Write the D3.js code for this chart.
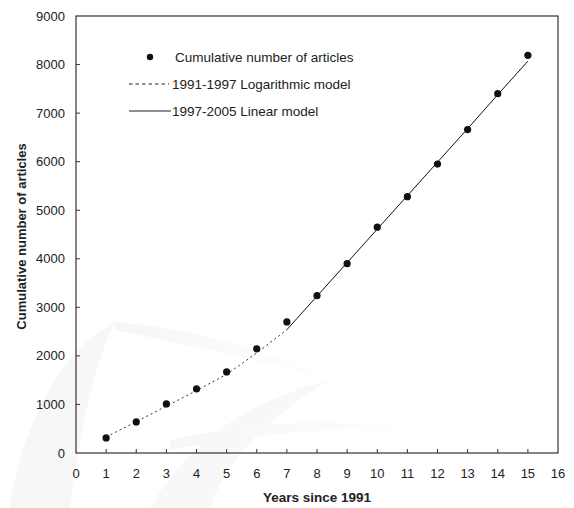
<!DOCTYPE html>
<html>
<head>
<meta charset="utf-8">
<script src="https://cdn.jsdelivr.net/npm/d3@7"></script>
<style>
  html, body { margin: 0; padding: 0; background: #fff; }
  text { font-family: "Liberation Sans", Arial, sans-serif; fill: #222; }
</style>
</head>
<body>
<div id="container"></div>
<script>
// Data
const years = [1, 2, 3, 4, 5, 6, 7, 8, 9, 10, 11, 12, 13, 14, 15];
const articles = [310, 640, 1010, 1320, 1670, 2145, 2700, 3240, 3900, 4650, 5280, 5950, 6660, 7400, 8190];

const logYears = [1, 2, 3, 4, 5, 6, 7];
const logModel = [330, 645, 965, 1285, 1620, 2060, 2540];

const linYears = [7, 8, 9, 10, 11, 12, 13, 14, 15];
const linModel = [2540, 3230, 3920, 4610, 5300, 5990, 6680, 7380, 8070];

const xTicks = d3.range(0, 17);
const yTicks = d3.range(0, 9001, 1000);

const legendItems = [
  { label: "Cumulative number of articles", type: "dot" },
  { label: "1991-1997 Logarithmic model", type: "dash" },
  { label: "1997-2005 Linear model", type: "line" }
];

const width = 574, height = 508;
const marginLeft = 76, marginRight = 16, marginTop = 16, marginBottom = 55;

const x = d3.scaleLinear().domain([0, 16]).range([marginLeft, width - marginRight]);
const y = d3.scaleLinear().domain([0, 9000]).range([height - marginBottom, marginTop]);

const svg = d3.select("#container").append("svg")
  .attr("width", width)
  .attr("height", height);

// faint watermark swooshes in the background
const defs = svg.append("defs");
const grad = defs.append("linearGradient").attr("id", "sw").attr("x1", "0").attr("x2", "1").attr("y1", "0").attr("y2", "0");
grad.append("stop").attr("offset", "0").attr("stop-color", "#f1f1f1");
grad.append("stop").attr("offset", "1").attr("stop-color", "#ffffff");
const wm = svg.append("g").attr("opacity", 0.6);
wm.append("path")
  .attr("d", "M10,508 C20,430 60,350 115,322 C95,360 80,430 70,508 Z")
  .attr("fill", "#f2f2f2");
wm.append("path")
  .attr("d", "M115,322 C200,330 270,350 330,380 C260,360 190,345 115,330 Z")
  .attr("fill", "url(#sw)");
wm.append("path")
  .attr("d", "M150,508 C190,440 250,400 330,380 C280,410 230,450 210,508 Z")
  .attr("fill", "#f4f4f4");
wm.append("path")
  .attr("d", "M170,440 C260,420 330,418 420,430 C330,428 260,432 170,450 Z")
  .attr("fill", "url(#sw)");

// frame
svg.append("rect")
  .attr("x", x(0)).attr("y", y(9000))
  .attr("width", x(16) - x(0)).attr("height", y(0) - y(9000))
  .attr("fill", "none").attr("stroke", "#333").attr("stroke-width", 1.2);

// ticks (inward)
svg.append("g").selectAll("line").data(yTicks.slice(1, -1)).join("line")
  .attr("x1", x(0)).attr("x2", x(0) + 4)
  .attr("y1", d => y(d)).attr("y2", d => y(d))
  .attr("stroke", "#333");
svg.append("g").selectAll("line").data(xTicks.slice(1, -1)).join("line")
  .attr("x1", d => x(d)).attr("x2", d => x(d))
  .attr("y1", y(0)).attr("y2", y(0) - 4)
  .attr("stroke", "#333");

// tick labels
svg.append("g").selectAll("text").data(yTicks).join("text")
  .attr("x", x(0) - 11).attr("y", d => y(d))
  .attr("dy", "0.35em").attr("text-anchor", "end")
  .style("font-size", "13px")
  .text(d => d);
svg.append("g").selectAll("text").data(xTicks).join("text")
  .attr("x", d => x(d)).attr("y", y(0) + 20)
  .attr("dy", "0.35em").attr("text-anchor", "middle")
  .style("font-size", "13px")
  .text(d => d);

// axis titles
svg.append("text")
  .attr("x", x(8)).attr("y", 502)
  .attr("text-anchor", "middle")
  .style("font-size", "13.5px").style("font-weight", "bold")
  .text("Years since 1991");
svg.append("text")
  .attr("transform", `translate(26,${(y(0) + y(9000)) / 2 + 2}) rotate(-90)`)
  .attr("text-anchor", "middle")
  .style("font-size", "13px").style("font-weight", "bold")
  .text("Cumulative number of articles");

// model lines
const line = d3.line().x(d => x(d[0])).y(d => y(d[1]));
svg.append("path")
  .datum(d3.zip(logYears, logModel))
  .attr("d", line)
  .attr("fill", "none").attr("stroke", "#333").attr("stroke-width", 1)
  .attr("stroke-dasharray", "2,3");
svg.append("path")
  .datum(d3.zip(linYears, linModel))
  .attr("d", line)
  .attr("fill", "none").attr("stroke", "#111").attr("stroke-width", 1);

// data points
svg.append("g").selectAll("circle").data(d3.zip(years, articles)).join("circle")
  .attr("cx", d => x(d[0])).attr("cy", d => y(d[1]))
  .attr("r", 3.6).attr("fill", "#111");

// legend
const legend = svg.append("g")
  .selectAll("g").data(legendItems).join("g")
  .attr("transform", (d, i) => `translate(129, ${57 + i * 27})`);
legend.filter(d => d.type === "dot").append("circle")
  .attr("cx", 21).attr("cy", 0).attr("r", 3.2).attr("fill", "#111");
legend.filter(d => d.type === "dash").append("line")
  .attr("x1", 0).attr("x2", 40).attr("y1", 0).attr("y2", 0)
  .attr("stroke", "#222").attr("stroke-dasharray", "3.5,3");
legend.filter(d => d.type === "line").append("line")
  .attr("x1", 0).attr("x2", 42).attr("y1", 0).attr("y2", 0)
  .attr("stroke", "#222");
legend.append("text")
  .attr("x", d => d.type === "dot" ? 46 : 43).attr("y", 0)
  .attr("dy", "0.35em")
  .style("font-size", "13.5px")
  .text(d => d.label);
</script>
</body>
</html>
